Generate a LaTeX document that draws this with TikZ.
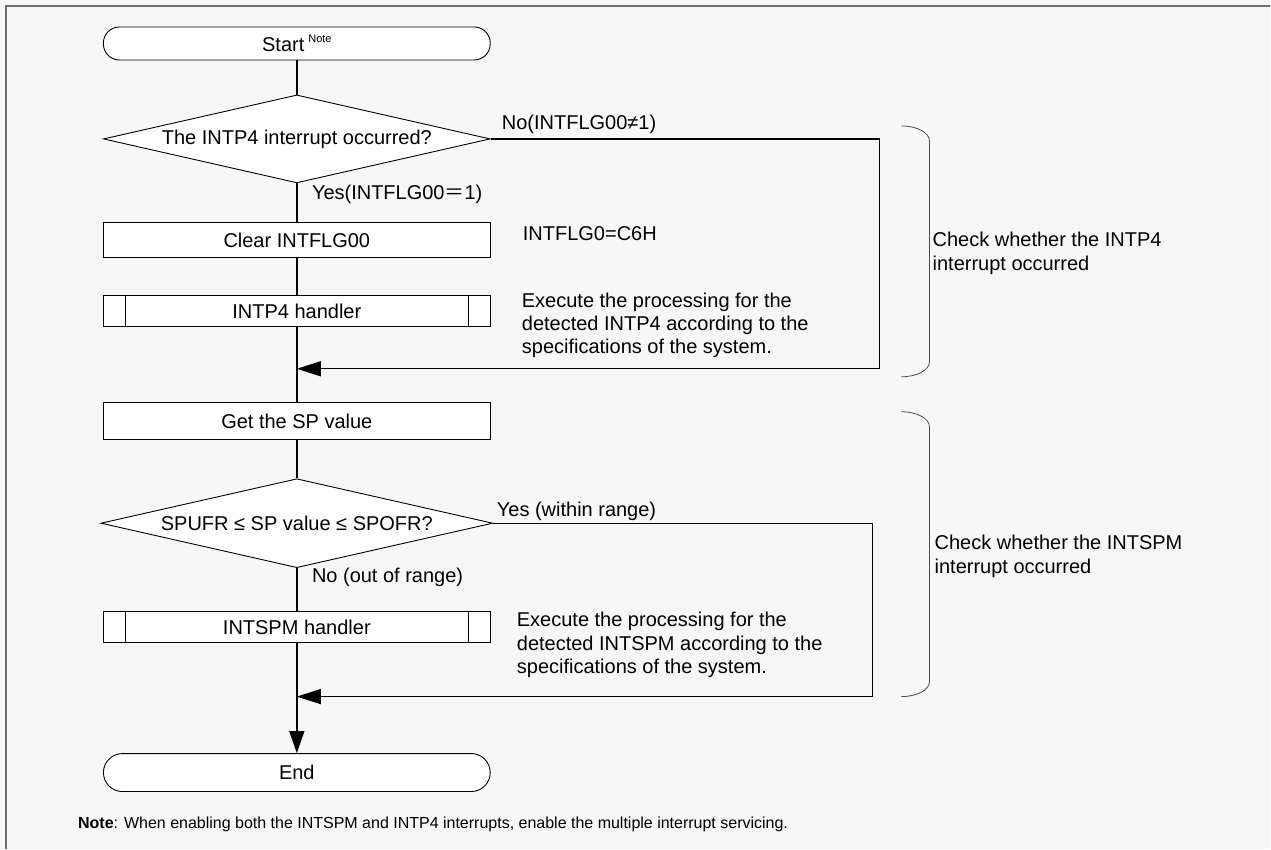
\documentclass[tikz,border=0pt]{standalone}
\usepackage{fontspec}
\setmainfont{Liberation Sans}
\newfontfamily\cjk{Noto Sans CJK SC}
\usetikzlibrary{shapes.geometric,arrows.meta}

\definecolor{pagebg}{HTML}{F7F7F7}
\definecolor{framegray}{HTML}{6E6E6E}
\definecolor{bracegray}{HTML}{4A4A4A}

\begin{document}
\begin{tikzpicture}[x=1pt,y=-1pt,
  every node/.style={font=\fontsize{20}{23.5}\selectfont, inner sep=0pt},
  shapebox/.style={draw, line width=0.9pt, fill=white, minimum width=387pt},
  termbox/.style={shapebox, rounded corners=16pt},
  procbox/.style={shapebox},
  subbox/.style={shapebox, path picture={
      \draw[line width=0.9pt] ([xshift=22pt]path picture bounding box.north west) -- ([xshift=22pt]path picture bounding box.south west);
      \draw[line width=0.9pt] ([xshift=-22pt]path picture bounding box.north east) -- ([xshift=-22pt]path picture bounding box.south east);}},
  decbox/.style={draw, line width=0.9pt, fill=white, diamond, aspect=4.4},
  conn/.style={line width=1.4pt},
  tip/.style={-{Triangle[length=24pt,width=15pt]}},
  lbl/.style={anchor=base west},
  para/.style={anchor=north west, align=left},
  brace/.style={line width=0.8pt, bracegray}
]
% page and frame
\fill[pagebg] (0,0) rectangle (1271,849);
\draw[framegray, line width=1.5pt] (6,849) -- (6,6) -- (1271,6);

% flow nodes
\node[termbox, minimum height=33pt] (start) at (297,43.5)
  {Start\hspace{4pt}\raisebox{9pt}{\fontsize{11}{11}\selectfont Note}};
\node[decbox, minimum width=387pt, minimum height=88pt] (d1) at (297,139)
  {The INTP4 interrupt occurred?};
\node[procbox, minimum height=35pt] (clear) at (297,240.5) {Clear INTFLG00};
\node[subbox, minimum height=31pt] (intp4) at (297,311.5) {INTP4 handler};
\node[procbox, minimum height=37pt] (getsp) at (297,421.5) {Get the SP value};
\node[decbox, minimum width=392pt, minimum height=89pt] (d2) at (297,523.5)
  {SPUFR ≤ SP value ≤ SPOFR?};
\node[subbox, minimum height=31pt] (intspm) at (297,627.5) {INTSPM handler};
\node[termbox, minimum height=38pt, rounded corners=19pt] (end) at (297,773) {End};

% junction points
\coordinate (c1) at (880,139);
\coordinate (j1) at (297,369);
\coordinate (c2) at (873,523.5);
\coordinate (j2) at (297,697);

% connectors
\draw[conn] (start) -- (d1);
\draw[conn] (d1) -- (clear);
\draw[conn] (clear) -- (intp4);
\draw[conn] (intp4) -- (getsp);
\draw[conn] (getsp) -- (d2);
\draw[conn] (d2) -- (intspm);
\draw[conn, -{Triangle[length=22pt,width=15pt]}] (intspm) -- (end);
\draw[conn, tip] (d1.east) -- (c1) |- (j1);
\draw[conn, tip] (d2.east) -- (c2) |- (j2);

% branch labels
\node[lbl] (no1) at (502,130) {No(INTFLG00≠1)};
\node[lbl] (yes1) at (312,200) {Yes(INTFLG00{\cjk ＝}1)};
\node[lbl] (yes2) at (497,517) {Yes (within range)};
\node[lbl] (no2) at (312,583) {No (out of range)};

% comments beside the steps
\node[lbl] (flg) at (523,241) {INTFLG0=C6H};
\node[para] (ex1) at (522,292.5) {Execute the processing for the\\detected INTP4 according to the\\specifications of the system.};
\node[para] (ex2) at (517,612.5) {Execute the processing for the\\detected INTSPM according to the\\specifications of the system.};

% braces grouping the two checks
\draw[brace] (902,126) .. controls (917.5,126) and (930,132.7) .. (930,141)
  -- (930,362) .. controls (930,370.3) and (917.5,377) .. (902,377);
\draw[brace] (902,412) .. controls (917.5,412) and (930,418.7) .. (930,427)
  -- (930,682) .. controls (930,690.3) and (917.5,697) .. (902,697);
\node[para, font=\fontsize{20}{24}\selectfont] (chk1) at (933,231.5) {Check whether the INTP4\\interrupt occurred};
\node[para, font=\fontsize{20}{24}\selectfont] (chk2) at (935,535.5) {Check whether the INTSPM\\interrupt occurred};

% footnote
\node[lbl, font=\fontsize{16}{19}\selectfont] (note) at (78,829)
  {\textbf{Note}: When enabling both the INTSPM and INTP4 interrupts, enable the multiple interrupt servicing.};
\end{tikzpicture}
\end{document}
